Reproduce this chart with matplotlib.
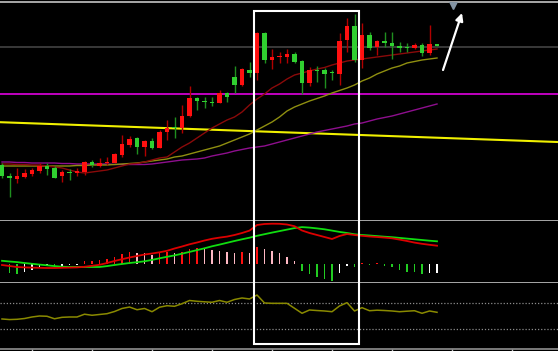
import numpy as np
import matplotlib
matplotlib.use("Agg")
import matplotlib.pyplot as plt
import matplotlib.transforms as mtransforms
from matplotlib.patches import Rectangle

# daily candles
opens = [9.64, 9.42, 9.36, 9.40, 9.46, 9.52, 9.62, 9.58, 9.42, 9.50,
         9.48, 9.50, 9.70, 9.62, 9.68, 9.68, 9.84, 10.04, 10.18, 10.00,
         10.12, 9.98, 10.30, 10.40, 10.38, 10.62, 10.98, 10.92, 10.90, 10.88,
         11.08, 11.40, 11.24, 11.54, 11.48, 12.28, 11.74, 11.80, 11.80, 11.86,
         11.72, 11.28, 11.54, 11.54, 11.49, 11.46, 12.14, 12.42, 11.74, 12.24,
         12.00, 12.12, 12.08, 12.02, 12.00, 11.98, 12.04, 11.88, 12.06]
highs = [9.68, 9.48, 9.58, 9.56, 9.58, 9.68, 9.68, 9.62, 9.54, 9.56,
         9.58, 9.72, 9.74, 9.78, 9.80, 9.88, 10.24, 10.22, 10.20, 10.14,
         10.18, 10.34, 10.54, 10.60, 10.84, 11.22, 11.00, 11.00, 11.00, 11.14,
         11.10, 11.62, 11.58, 11.70, 12.30, 12.30, 11.96, 11.90, 11.96, 11.90,
         11.74, 11.60, 11.62, 11.58, 11.54, 12.28, 12.58, 12.66, 12.48, 12.30,
         12.14, 12.30, 12.30, 12.10, 12.08, 12.08, 12.08, 12.44, 12.06]
lows = [9.38, 9.00, 9.28, 9.38, 9.42, 9.48, 9.44, 9.38, 9.30, 9.34,
        9.42, 9.44, 9.60, 9.60, 9.64, 9.68, 9.80, 10.00, 9.86, 9.82,
        9.96, 9.98, 10.14, 10.18, 10.28, 10.60, 10.74, 10.78, 10.82, 10.88,
        10.90, 11.08, 11.22, 11.40, 11.34, 11.68, 11.56, 11.68, 11.68, 11.68,
        11.06, 11.22, 11.30, 11.18, 11.34, 11.24, 11.90, 11.70, 11.58, 11.94,
        11.84, 12.00, 11.76, 11.90, 11.90, 11.96, 11.82, 11.84, 12.02]
closes = [9.42, 9.38, 9.42, 9.48, 9.54, 9.62, 9.56, 9.38, 9.50, 9.48,
          9.52, 9.70, 9.64, 9.68, 9.70, 9.86, 10.06, 10.16, 10.00, 10.12,
          9.98, 10.30, 10.38, 10.38, 10.62, 10.98, 10.92, 10.90, 10.88, 11.08,
          11.00, 11.24, 11.56, 11.48, 12.28, 11.74, 11.80, 11.82, 11.86, 11.70,
          11.28, 11.54, 11.52, 11.46, 11.47, 12.12, 12.42, 11.74, 12.24, 11.98,
          12.12, 12.08, 12.02, 11.98, 11.98, 12.04, 11.88, 12.06, 12.02]

# moving averages as drawn
ma_short = [9.66, 9.66, 9.65, 9.65, 9.64, 9.64, 9.62, 9.60, 9.58, 9.54,
            9.50, 9.48, 9.50, 9.52, 9.54, 9.58, 9.62, 9.66, 9.67, 9.70,
            9.74, 9.78, 9.80, 9.90, 10.00, 10.08, 10.18, 10.28, 10.38, 10.46,
            10.54, 10.60, 10.70, 10.84, 10.96, 11.06, 11.18, 11.26, 11.36, 11.44,
            11.48, 11.52, 11.56, 11.59, 11.64, 11.68, 11.72, 11.74, 11.76, 11.78,
            11.80, 11.82, 11.84, 11.86, 11.88, 11.90, 11.92, 11.94, 11.96]
ma_mid = [9.62, 9.62, 9.62, 9.62, 9.62, 9.62, 9.62, 9.62, 9.62, 9.62,
          9.63, 9.63, 9.64, 9.64, 9.64, 9.65, 9.66, 9.67, 9.68, 9.70,
          9.72, 9.74, 9.76, 9.80, 9.82, 9.86, 9.90, 9.94, 9.98, 10.02,
          10.08, 10.14, 10.20, 10.26, 10.34, 10.42, 10.50, 10.60, 10.72, 10.80,
          10.86, 10.92, 10.97, 11.02, 11.08, 11.13, 11.18, 11.24, 11.32, 11.38,
          11.46, 11.52, 11.58, 11.62, 11.68, 11.71, 11.74, 11.76, 11.78]
ma_long = [9.70, 9.70, 9.69, 9.69, 9.68, 9.68, 9.68, 9.68, 9.67, 9.67,
           9.66, 9.66, 9.66, 9.66, 9.66, 9.65, 9.65, 9.65, 9.65, 9.65,
           9.66, 9.68, 9.70, 9.72, 9.74, 9.75, 9.76, 9.78, 9.82, 9.85,
           9.88, 9.92, 9.95, 9.98, 10.00, 10.02, 10.06, 10.10, 10.14, 10.18,
           10.22, 10.26, 10.30, 10.33, 10.36, 10.39, 10.42, 10.46, 10.48, 10.52,
           10.56, 10.59, 10.62, 10.66, 10.70, 10.74, 10.78, 10.82, 10.86]

# reference levels on the price panel
level_gray = 12.00
level_magenta = 11.06
trend_x = [-1, 75]
trend_y = [10.50, 10.095]

# MACD
dif = [-0.010, -0.020, -0.030, -0.034, -0.036, -0.038, -0.040, -0.040, -0.038, -0.036,
       -0.034, -0.028, -0.018, -0.008, 0.010, 0.030, 0.048, 0.065, 0.080, 0.095,
       0.105, 0.117, 0.132, 0.155, 0.175, 0.197, 0.215, 0.235, 0.252, 0.264,
       0.274, 0.290, 0.310, 0.334, 0.390, 0.400, 0.403, 0.402, 0.395, 0.378,
       0.335, 0.310, 0.290, 0.270, 0.250, 0.280, 0.300, 0.290, 0.282, 0.275,
       0.270, 0.264, 0.257, 0.244, 0.230, 0.214, 0.202, 0.192, 0.183]
dea = [0.032, 0.025, 0.019, 0.010, 0.002, -0.006, -0.013, -0.021, -0.027, -0.030,
       -0.030, -0.030, -0.030, -0.030, -0.021, -0.010, 0.000, 0.010, 0.018, 0.027,
       0.041, 0.057, 0.072, 0.086, 0.103, 0.121, 0.139, 0.157, 0.177, 0.194,
       0.212, 0.230, 0.247, 0.263, 0.282, 0.298, 0.314, 0.329, 0.344, 0.359,
       0.369, 0.364, 0.356, 0.347, 0.334, 0.321, 0.310, 0.297, 0.290, 0.285,
       0.279, 0.273, 0.268, 0.261, 0.254, 0.247, 0.240, 0.233, 0.227]
macd_hist = [np.nan, -0.090, -0.095, -0.080, -0.060, -0.030, -0.020, -0.025, -0.015, -0.010,
             -0.005, 0.030, 0.032, 0.040, 0.050, 0.070, 0.100, 0.120, 0.115, 0.110,
             0.090, 0.110, 0.120, 0.110, 0.120, 0.155, 0.160, 0.150, 0.140, 0.130,
             0.120, 0.110, 0.120, 0.115, 0.170, 0.150, 0.130, 0.110, 0.070, 0.030,
             -0.070, -0.100, -0.130, -0.150, -0.170, -0.090, -0.020, -0.030, 0.006, -0.006,
             0.006, -0.015, -0.030, -0.060, -0.075, -0.080, -0.100, -0.090, -0.085]

# lower oscillator (0-100)
osc = [45.5, 44.6, 45.0, 46.2, 48.5, 50.0, 49.6, 45.8, 48.0, 48.5,
       48.5, 52.7, 51.1, 52.3, 53.5, 56.8, 61.4, 63.6, 59.5, 61.4,
       56.5, 63.3, 65.6, 64.7, 68.6, 73.5, 72.3, 71.5, 70.8, 73.5,
       70.8, 75.0, 77.3, 75.8, 81.8, 69.7, 69.2, 69.2, 69.2, 61.7,
       54.1, 59.1, 58.3, 57.6, 56.5, 65.2, 70.2, 57.6, 62.6, 58.0,
       58.8, 58.3, 57.6, 56.5, 57.3, 58.0, 54.1, 57.6, 55.6]
osc_levels = [70, 30]

# annotations
box_x = [33.6, 47.6]
arrow_from = (58.8, 11.54)
arrow_to = (61.33, 12.68)
marker_pos = (60.13, 12.84)

x = np.arange(len(closes))
o = np.array(opens)
c = np.array(closes)
up = c >= o

fig = plt.figure(figsize=(5.58, 3.51), dpi=100, facecolor="black")
ax = fig.add_axes([0, 0.37037, 1, 0.62251])
ax2 = fig.add_axes([0, 0.19373, 1, 0.17664])
ax3 = fig.add_axes([0, 0.0057, 1, 0.18803])

for a in (ax, ax2, ax3):
    a.set_facecolor("black")
    a.set_xlim(-0.267, 74.13)
    a.set_yticks([])
    for s in a.spines.values():
        s.set_visible(False)
    a.tick_params(left=False, labelleft=False, bottom=False, labelbottom=False)

sep = "#a8a8a8"
ax.spines["top"].set_visible(True)
ax.spines["top"].set_color(sep)
ax.spines["top"].set_linewidth(1.4)
ax.spines["bottom"].set_visible(True)
ax.spines["bottom"].set_color(sep)
ax.spines["bottom"].set_linewidth(1.4)
ax2.spines["bottom"].set_visible(True)
ax2.spines["bottom"].set_color(sep)
ax2.spines["bottom"].set_linewidth(1.4)
ax3.spines["bottom"].set_visible(True)
ax3.spines["bottom"].set_color("#909090")
ax3.spines["bottom"].set_linewidth(1.2)

# price panel
ax.set_ylim(8.52, 12.89)
ax.axhline(level_gray, color="#3e3e3e", lw=1.3, zorder=1)
ax.axhline(level_magenta, color="#e000e0", lw=1.2, zorder=1)
ax.plot(trend_x, trend_y, color="#f0f000", lw=1.5, zorder=2)
ax.plot(x, ma_long, color="#8e0f8e", lw=1.0, zorder=2)
ax.plot(x, ma_mid, color="#8f8f10", lw=1.0, zorder=2)
ax.plot(x, ma_short, color="#8a0a0a", lw=1.0, zorder=2)

wick_col = np.where(up, "#b00000", "#1f8f1f")
body_col = np.where(up, "#ff1010", "#30d030")
ax.vlines(x, lows, highs, colors=wick_col, lw=1.0, zorder=3)
body_h = np.maximum(np.abs(c - o), 0.025)
ax.bar(x, body_h, bottom=np.minimum(o, c), width=0.66, color=body_col,
       linewidth=0, zorder=4)

ax.annotate("", xy=arrow_to, xytext=arrow_from,
            arrowprops=dict(arrowstyle="-|>", color="white", lw=1.6,
                            mutation_scale=11, shrinkA=0, shrinkB=0))
ax.plot(*marker_pos, marker="v", color="#8494a4", ms=6, zorder=5)

# MACD panel
ax2.set_ylim(-0.19, 0.43)
hist_cols = []
prev = np.nan
for v in macd_hist:
    if v >= 0:
        hist_cols.append("#ff1010" if not (v < prev) else "#ffb8c4")
    else:
        hist_cols.append("#22cc22" if not (v > prev) else "#ffffff")
    prev = v
ax2.bar(x, macd_hist, width=0.26, color=hist_cols, linewidth=0, zorder=2)
ax2.plot(x, dea, color="#10dd10", lw=1.3, zorder=3)
ax2.plot(x, dif, color="#dd0000", lw=1.3, zorder=3)

# oscillator panel
ax3.set_ylim(0, 100)
for lv in osc_levels:
    ax3.axhline(lv, color="#8c8c8c", lw=0.9, ls=(0, (1, 1.5)))
ax3.plot(x, osc, color="#8a8a00", lw=1.1)
ax3.set_xticks(np.arange(4, 75, 8))
ax3.tick_params(bottom=True, length=2, color="#c0c0c0", width=1)

# highlight box across all panels
trans = mtransforms.blended_transform_factory(ax.transData, fig.transFigure)
rect = Rectangle((box_x[0], 0.0199), box_x[1] - box_x[0], 0.9687 - 0.0199,
                 transform=trans, fill=False, edgecolor="white", lw=1.5,
                 zorder=10)
fig.add_artist(rect)

fig.savefig("out.png", dpi=100, facecolor="black")
